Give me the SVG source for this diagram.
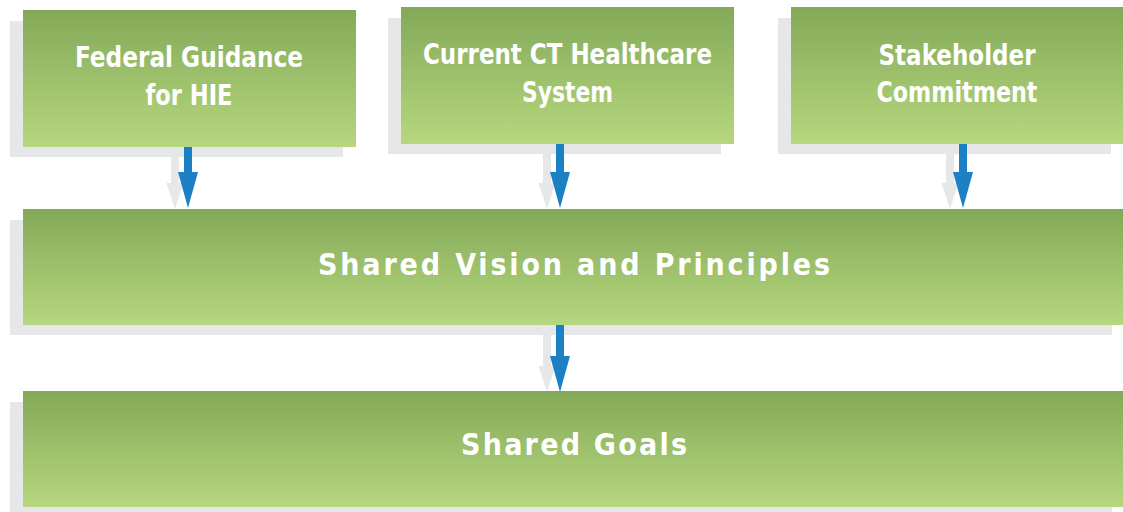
<svg xmlns="http://www.w3.org/2000/svg" width="1123" height="512" viewBox="0 0 1123 512">
<defs>
<linearGradient id="g" x1="0" y1="0" x2="0" y2="1">
<stop offset="0" stop-color="#83a958"/>
<stop offset="1" stop-color="#b6d77e"/>
</linearGradient>
<style>
.box{fill:url(#g)}
.sh{fill:#e6e7e8}
.ar{fill:#1c80c4}
.gar{fill:#e6e7e8}
.t{font-family:"Liberation Sans Narrow","DejaVu Sans Condensed","Liberation Sans",sans-serif;font-weight:bold;font-size:29px;fill:#ffffff;text-anchor:middle}
.w{font-size:30px}
</style>
</defs>
<rect width="1123" height="512" fill="#ffffff"/>
<g id="shadows">
<rect class="sh" x="10" y="21" width="333" height="136"/>
<rect class="sh" x="388" y="18" width="333" height="136"/>
<rect class="sh" x="778" y="18" width="333" height="136"/>
<rect class="sh" x="10" y="220" width="1102" height="115"/>
<rect class="sh" x="10" y="402" width="1102" height="115"/>
</g>
<g id="connectors">
<polygon class="gar" points="171,157 179,157 179,183 183.5,183 175,209 166.5,183 171,183"/>
<polygon class="gar" points="543,154 551,154 551,183 555.5,183 547,209 538.5,183 543,183"/>
<polygon class="gar" points="946,154 954,154 954,183 958.5,183 950,209 941.5,183 946,183"/>
<polygon class="gar" points="543,335 551,335 551,366 555.5,366 547,392 538.5,366 543,366"/>
</g>
<g id="node-federal">
<rect class="box" x="23" y="10" width="333" height="137"/>
<text class="t"><tspan x="189" y="67" textLength="228" lengthAdjust="spacingAndGlyphs">Federal Guidance</tspan><tspan x="189" y="105" textLength="87" lengthAdjust="spacingAndGlyphs">for HIE</tspan></text>
</g>
<g id="node-current">
<rect class="box" x="401" y="7" width="333" height="137"/>
<text class="t"><tspan x="567.5" y="64" textLength="289" lengthAdjust="spacingAndGlyphs">Current CT Healthcare</tspan><tspan x="567.5" y="102" textLength="91" lengthAdjust="spacingAndGlyphs">System</tspan></text>
</g>
<g id="node-stakeholder">
<rect class="box" x="791" y="7" width="332" height="137"/>
<text class="t"><tspan x="957" y="65" textLength="157" lengthAdjust="spacingAndGlyphs">Stakeholder</tspan><tspan x="957" y="102" textLength="161" lengthAdjust="spacingAndGlyphs">Commitment</tspan></text>
</g>
<g id="node-vision">
<rect class="box" x="23" y="209" width="1100" height="116"/>
<text class="t w" x="574" y="275" textLength="512" lengthAdjust="spacing">Shared Vision and Principles</text>
</g>
<g id="node-goals">
<rect class="box" x="23" y="391" width="1100" height="116"/>
<text class="t w" x="574" y="455" textLength="226" lengthAdjust="spacing">Shared Goals</text>
</g>
<g id="arrows">
<polygon class="ar" points="184,147 192,147 192,172 198,172 188,208 178,172 184,172"/>
<polygon class="ar" points="556,144 564,144 564,172 570,172 560,208 550,172 556,172"/>
<polygon class="ar" points="959,144 967,144 967,172 973,172 963,208 953,172 959,172"/>
<polygon class="ar" points="556,325 564,325 564,356 570,356 560,392 550,356 556,356"/>
</g>
</svg>
